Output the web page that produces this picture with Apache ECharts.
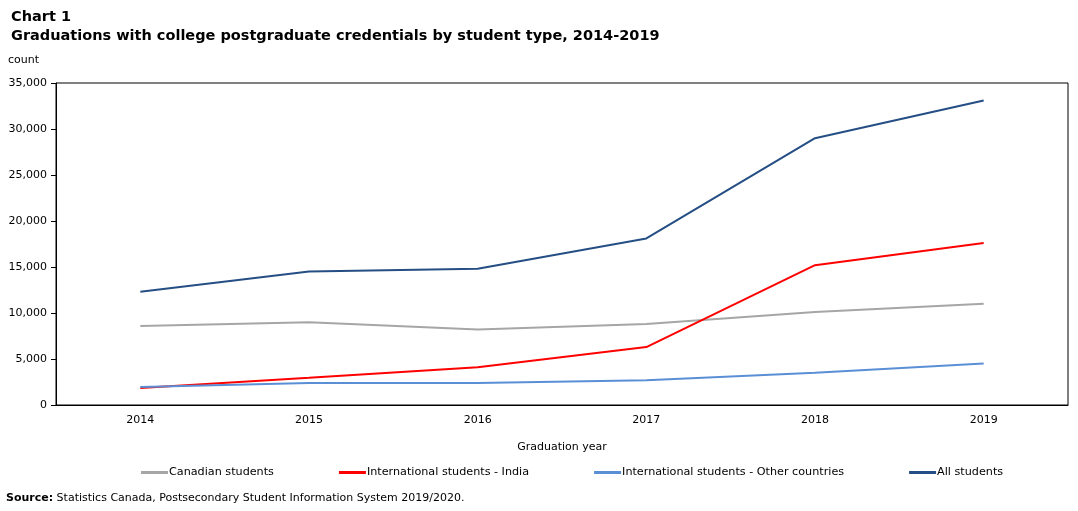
<!DOCTYPE html>
<html>
<head>
<meta charset="utf-8">
<script src="https://cdn.jsdelivr.net/npm/echarts@6/dist/echarts.min.js"></script>
<style>
  html, body { margin: 0; padding: 0; background: #fff; }
  #chart { width: 1078px; height: 511px; }
</style>
</head>
<body>
<div id="chart"></div>
<script>
// graduation years
const years = ['2014', '2015', '2016', '2017', '2018', '2019'];

// counts
const canadian = [8600, 9000, 8200, 8800, 10100, 11000];
const india = [1850, 2950, 4100, 6300, 15200, 17600];
const otherCountries = [1950, 2400, 2400, 2700, 3500, 4500];
const allStudents = [12300, 14500, 14800, 18100, 29000, 33100];

const seriesNames = ['Canadian students', 'International students - India',
    'International students - Other countries', 'All students'];
const seriesColors = ['#a6a6a6', '#ff0000', '#5a8fd6', '#254e84'];

const font = 'Verdana, "DejaVu Sans", sans-serif';

const chart = echarts.init(document.getElementById('chart'));

function lineSeries(i, data) {
    return {
        type: 'line',
        name: seriesNames[i],
        data: data,
        symbol: 'none',
        color: seriesColors[i],
        lineStyle: { width: 2, color: seriesColors[i] }
    };
}

chart.setOption({
    animation: false,
    textStyle: { fontFamily: font },
    title: {
        text: 'Chart 1\nGraduations with college postgraduate credentials by student type, 2014-2019',
        left: 6,
        top: 3,
        textStyle: { fontFamily: font, fontSize: 14.5, fontWeight: 'bold', color: '#000', lineHeight: 19 }
    },
    grid: {
        left: 56,
        right: 10,
        top: 83,
        bottom: 106,
        show: true,
        borderColor: '#000',
        borderWidth: 1
    },
    legend: {
        bottom: 28,
        left: 136,
        itemGap: 65,
        itemWidth: 27,
        itemHeight: 3,
        icon: 'rect',
        textStyle: { fontFamily: font, fontSize: 11.2, color: '#000', padding: [0, 0, 0, -4] },
        data: seriesNames
    },
    xAxis: {
        type: 'category',
        data: years,
        name: 'Graduation year',
        nameLocation: 'middle',
        nameGap: 37,
        nameTextStyle: { fontFamily: font, fontSize: 11, color: '#000' },
        axisLine: { lineStyle: { color: '#000' } },
        axisTick: { show: false },
        axisLabel: { fontFamily: font, fontSize: 11, color: '#000', margin: 10 }
    },
    yAxis: {
        type: 'value',
        min: 0,
        max: 35000,
        interval: 5000,
        name: 'count',
        nameLocation: 'end',
        nameGap: 17,
        nameTextStyle: { fontFamily: font, fontSize: 11, color: '#000', align: 'left', padding: [0, 0, 0, -48] },
        axisLine: { show: true, lineStyle: { color: '#000' } },
        axisTick: { show: true, length: 5, lineStyle: { color: '#000' } },
        splitLine: { show: false },
        axisLabel: {
            fontFamily: font, fontSize: 11, color: '#000', margin: 9,
            formatter: v => v.toLocaleString('en-US')
        }
    },
    graphic: [{
        type: 'text',
        left: 6,
        top: 493,
        style: {
            text: '{b|Source:} Statistics Canada, Postsecondary Student Information System 2019/2020.',
            fontFamily: font,
            fontSize: 11,
            fill: '#000',
            rich: {
                b: { fontFamily: font, fontSize: 11, fontWeight: 'bold', fill: '#000' }
            }
        }
    }],
    series: [
        lineSeries(0, canadian),
        lineSeries(1, india),
        lineSeries(2, otherCountries),
        lineSeries(3, allStudents)
    ]
});
</script>
</body>
</html>
